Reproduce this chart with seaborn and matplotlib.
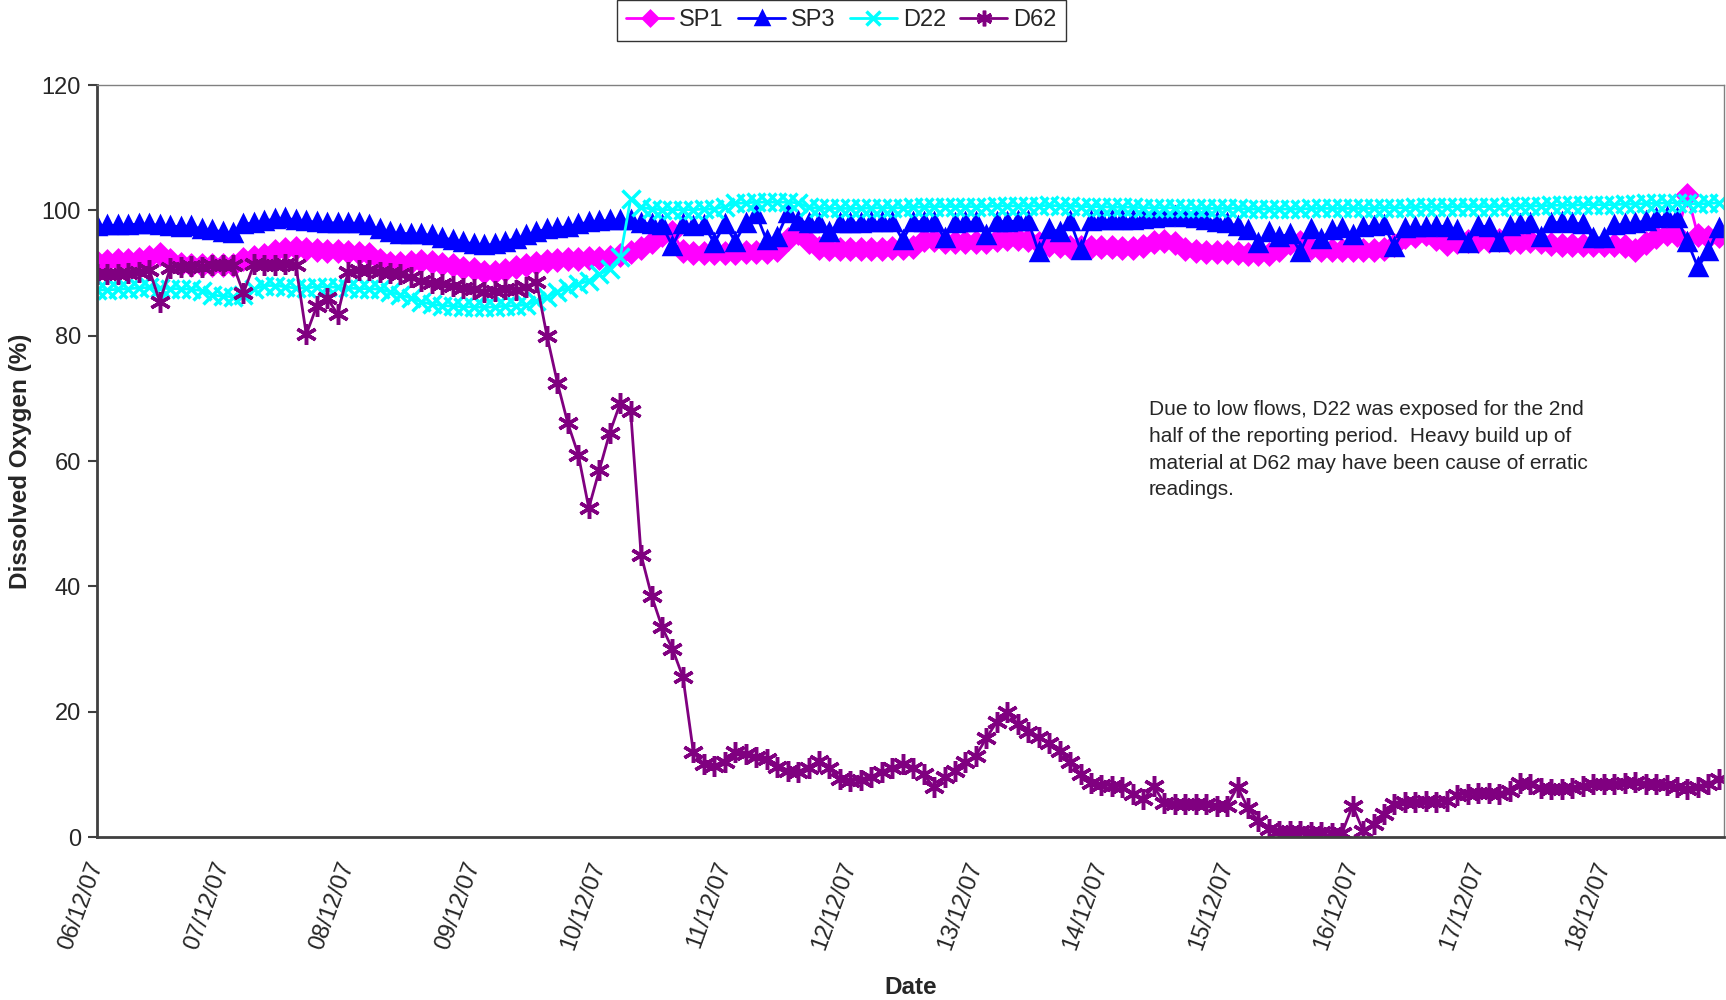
import pandas as pd
import matplotlib
matplotlib.use("Agg")
import matplotlib.pyplot as plt
import matplotlib.dates as mdates
import seaborn as sns

# logger readings, every 2 hours from 06/12/07 00:00 (one row per day)
start = "2007-12-06 00:00"
sites = ["SP1", "SP3", "D22", "D62"]

sp1 = [
    91.8, 91.9, 92.0, 92.0, 92.2, 92.6, 93.0, 92.0, 91.5, 91.3, 91.2, 91.2,
    91.2, 91.3, 92.3, 92.5, 92.8, 93.5, 93.9, 94.0, 93.8, 93.6, 93.5, 93.5,
    93.4, 93.2, 93.0, 92.0, 91.6, 91.6, 91.8, 91.9, 91.8, 91.5, 91.2, 90.8,
    90.6, 90.2, 90.2, 90.5, 90.9, 91.3, 91.6, 91.9, 92.1, 92.2, 92.3, 92.4,
    92.4, 92.6, 92.9, 93.3, 94.0, 95.0, 96.0, 96.5, 93.5, 93.2, 93.2, 93.2,
    93.2, 93.2, 93.3, 93.3, 93.4, 93.6, 95.5, 96.4, 95.0, 94.0, 93.9, 93.8,
    93.8, 93.8, 93.9, 93.9, 94.0, 94.0, 94.1, 95.3, 95.2, 95.0, 94.9, 95.0,
    95.0, 95.0, 95.2, 95.4, 95.5, 95.2, 94.8, 94.5, 94.3, 94.2, 94.2, 94.2,
    94.2, 94.1, 94.0, 94.0, 94.3, 95.0, 95.1, 94.8, 93.8, 93.5, 93.4, 93.3,
    93.3, 93.2, 93.1, 93.0, 93.0, 93.6, 94.8, 95.0, 94.0, 93.7, 93.7, 93.7,
    93.7, 93.7, 93.6, 93.8, 94.5, 95.7, 95.9, 96.2, 95.5, 94.6, 94.9, 95.1,
    95.1, 95.1, 95.2, 95.0, 95.0, 95.1, 94.9, 94.6, 94.4, 94.4, 94.4, 94.5,
    94.5, 94.4, 94.3, 93.7, 94.8, 95.8, 96.2, 96.0, 102.5, 96.0, 95.8, 95.9,
]

sp3 = [
    97.5, 97.6, 97.6, 97.7, 97.8, 97.8, 97.6, 97.5, 97.4, 97.5, 97.0, 96.8,
    96.6, 96.4, 97.8, 98.0, 98.3, 98.6, 98.7, 98.5, 98.3, 98.1, 98.0, 98.0,
    98.0, 97.9, 97.6, 97.0, 96.5, 96.3, 96.3, 96.2, 96.0, 95.6, 95.3, 95.0,
    94.6, 94.4, 94.6, 95.0, 95.5, 96.0, 96.6, 97.0, 97.2, 97.4, 97.8, 98.1,
    98.3, 98.4, 98.5, 98.4, 98.0, 97.8, 97.6, 94.3, 97.8, 97.5, 97.6, 94.8,
    97.8, 95.0, 98.0, 99.4, 95.2, 95.8, 99.5, 98.3, 98.0, 98.0, 96.5, 98.0,
    98.0, 98.0, 98.1, 98.1, 98.2, 95.3, 98.2, 98.2, 98.1, 95.6, 98.0, 98.1,
    98.1, 96.0, 98.2, 98.2, 98.3, 98.3, 93.3, 97.0, 96.6, 98.3, 93.7, 98.3,
    98.4, 98.4, 98.5, 98.5, 98.6, 98.7, 98.9, 99.1, 99.0, 98.8, 98.5, 98.2,
    98.0, 97.5, 96.8, 94.8, 96.5, 95.8, 96.2, 93.4, 97.0, 95.5, 96.8, 97.2,
    96.0, 97.3, 97.5, 97.6, 94.2, 97.2, 97.3, 97.3, 97.5, 97.4, 96.8, 94.8,
    97.5, 97.4, 95.0, 97.5, 97.8, 97.9, 95.8, 98.0, 98.1, 98.0, 97.8, 95.6,
    95.6, 97.6, 97.8, 98.0, 98.3, 98.7, 99.0, 98.8, 95.0, 90.9, 93.5, 97.2,
]

d22 = [
    87.3, 87.3, 87.4, 87.5, 87.6, 87.7, 87.6, 87.5, 87.5, 87.4, 87.2, 86.5,
    86.3, 86.2, 86.5, 87.4, 88.0, 88.0, 87.8, 87.6, 87.6, 87.8, 87.8, 87.7,
    87.6, 87.5, 87.5, 87.4, 87.0, 86.5, 86.0, 85.4, 85.0, 84.8, 84.7, 84.6,
    84.6, 84.5, 84.6, 84.7, 84.8, 84.9, 85.5, 86.2, 87.0, 87.6, 88.2, 88.8,
    89.8, 90.6, 92.5, 101.8, 100.5, 100.2, 100.1, 100.1, 100.1, 100.1, 100.2, 100.2,
    100.6, 101.1, 101.2, 101.3, 101.3, 101.3, 101.3, 101.2, 100.5, 100.3, 100.3, 100.3,
    100.3, 100.3, 100.4, 100.4, 100.4, 100.4, 100.5, 100.5, 100.6, 100.6, 100.6, 100.6,
    100.6, 100.6, 100.7, 100.7, 100.7, 100.7, 100.7, 100.8, 100.7, 100.7, 100.6, 100.6,
    100.6, 100.5, 100.5, 100.5, 100.4, 100.4, 100.4, 100.4, 100.3, 100.3, 100.3, 100.3,
    100.3, 100.3, 100.2, 100.2, 100.2, 100.2, 100.2, 100.2, 100.3, 100.3, 100.3, 100.3,
    100.3, 100.3, 100.3, 100.4, 100.4, 100.4, 100.5, 100.5, 100.5, 100.5, 100.6, 100.6,
    100.6, 100.6, 100.6, 100.7, 100.7, 100.7, 100.7, 100.8, 100.8, 100.8, 100.9, 100.9,
    100.9, 100.9, 101.0, 101.0, 101.1, 101.1, 101.2, 101.2, 101.1, 101.0, 101.1, 101.2,
]

d62 = [
    89.8, 89.9, 89.8, 90.0, 90.1, 90.5, 85.4, 90.8, 91.0, 91.1, 91.0, 91.2,
    91.2, 91.3, 86.8, 91.4, 91.3, 91.2, 91.4, 91.3, 80.2, 84.7, 86.0, 83.4,
    90.2, 90.5, 90.4, 90.2, 90.0, 89.8, 89.4, 88.8, 88.4, 88.2, 88.0, 87.6,
    87.4, 87.0, 87.2, 87.5, 87.3, 87.8, 88.6, 80.0, 72.5, 66.0, 61.0, 52.5,
    58.5, 64.5, 69.2, 68.0, 45.0, 38.5, 33.5, 30.0, 25.5, 13.5, 11.6, 11.4,
    12.0, 13.6, 13.2, 12.8, 12.4, 11.2, 10.5, 10.4, 11.0, 12.2, 11.0, 9.3,
    9.0, 9.1, 9.6, 10.4, 11.0, 11.6, 11.0, 10.0, 7.9, 9.5, 10.5, 12.0,
    13.0, 15.8, 18.4, 20.0, 18.0, 16.8, 16.0, 15.0, 13.8, 12.0, 10.0, 8.6,
    8.3, 8.2, 8.0, 6.8, 6.0, 8.1, 5.4, 5.2, 5.3, 5.2, 5.2, 5.0,
    5.0, 8.0, 4.6, 2.5, 1.2, 1.0, 1.0, 0.9, 0.8, 0.8, 0.7, 0.7,
    5.0, 1.0, 2.1, 3.6, 5.2, 5.6, 5.6, 5.7, 5.6, 5.8, 6.7, 6.9,
    7.0, 7.0, 6.9, 7.4, 8.6, 8.4, 7.8, 7.6, 7.7, 7.8, 8.2, 8.4,
    8.5, 8.4, 8.6, 8.7, 8.5, 8.4, 8.3, 8.0, 7.7, 7.9, 8.4, 9.3,
]

colors = {"SP1": "#FF00FF", "SP3": "#0000FF", "D22": "#00FFFF", "D62": "#800080"}
markers = {"SP1": "D", "SP3": "^", "D22": "x", "D62": (6, 2, 0)}
msizes = {"SP1": 10, "SP3": 11, "D22": 13, "D62": 15}

times = pd.date_range(start, periods=len(sp1), freq="2h")
df = pd.DataFrame({"time": times, "SP1": sp1, "SP3": sp3, "D22": d22, "D62": d62})
long_df = df.melt(id_vars="time", var_name="site", value_name="do")

sns.set_style("white")
plt.rcParams["font.family"] = ["Liberation Sans", "DejaVu Sans"]

fig = plt.figure(figsize=(17.26, 10), dpi=100)
ax = fig.add_axes([0.0562, 0.163, 0.9428, 0.752])

for site in sites:
    sub = long_df[long_df["site"] == site]
    sns.lineplot(data=sub, x="time", y="do", ax=ax, label=site,
                 color=colors[site], marker=markers[site], markersize=msizes[site],
                 markeredgecolor=colors[site], markerfacecolor=colors[site],
                 markeredgewidth=2.5, linewidth=2)

ax.set_ylim(0, 120)
ax.set_yticks(range(0, 121, 20))
ax.set_xlim(pd.Timestamp(start), pd.Timestamp(start) + pd.Timedelta(days=12.96))
ax.xaxis.set_major_locator(mdates.DayLocator())
ax.xaxis.set_major_formatter(mdates.DateFormatter("%d/%m/%y"))

ax.tick_params(axis="y", labelsize=17, length=6.5, width=1.5, color="#404040", pad=5, left=True)
ax.tick_params(axis="x", labelsize=17, length=0, pad=18)
for lab in ax.get_xticklabels():
    lab.set_rotation(70)
    lab.set_ha("right")
    lab.set_va("center")
    lab.set_rotation_mode("anchor")

for side in ["left", "bottom"]:
    ax.spines[side].set_color("#404040")
    ax.spines[side].set_linewidth(2)
for side in ["top", "right"]:
    ax.spines[side].set_color("#808080")
    ax.spines[side].set_linewidth(1)

ax.set_ylabel("Dissolved Oxygen (%)", fontsize=17.5, fontweight="bold", labelpad=7)
ax.set_xlabel("Date", fontsize=17.5, fontweight="bold", labelpad=17)

ax.legend(loc="upper center", bbox_to_anchor=(0.4875, 1.0), bbox_transform=fig.transFigure,
          ncol=4, fontsize=17, frameon=True, fancybox=False, edgecolor="black",
          handlelength=2.0, handletextpad=0.25, columnspacing=0.6, borderpad=0.4,
          borderaxespad=0, markerscale=0.75)

fig.text(0.6655, 0.6,
         "Due to low flows, D22 was exposed for the 2nd\n"
         "half of the reporting period.  Heavy build up of\n"
         "material at D62 may have been cause of erratic\n"
         "readings.",
         fontsize=15, va="top", ha="left", linespacing=1.52)

fig.savefig("out.png", dpi=100)
